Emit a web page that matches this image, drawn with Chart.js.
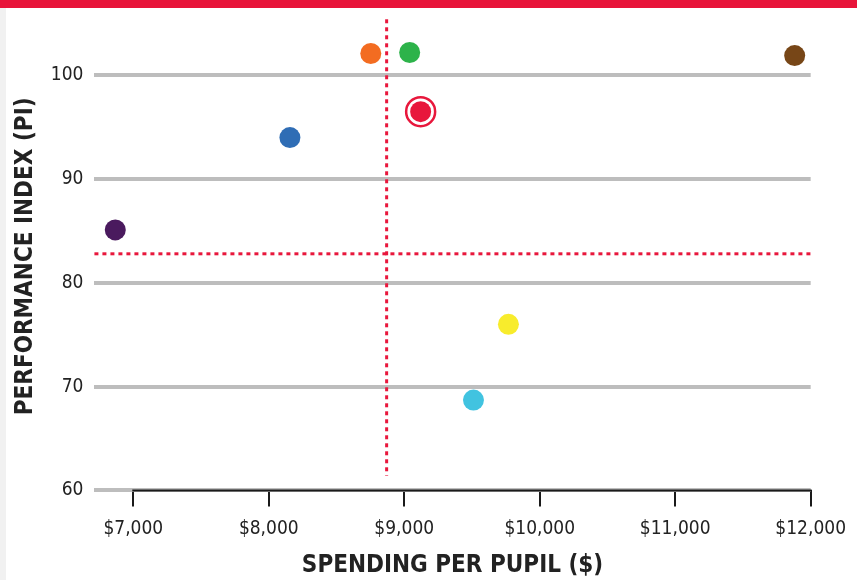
<!DOCTYPE html>
<html>
<head>
<meta charset="utf-8">
<script src="https://cdn.jsdelivr.net/npm/chart.js@4.4.0/dist/chart.umd.min.js"></script>
<style>
  html, body { margin: 0; padding: 0; background: #fff; }
  #wrap { position: relative; width: 857px; height: 580px; overflow: hidden; background: #fff; }
  #topbar { position: absolute; left: 0; top: 0; width: 857px; height: 8px; background: #E8143A; z-index: 2; }
  #leftstrip { position: absolute; left: 0; top: 0; width: 6px; height: 580px; background: #f1f1f1; z-index: 1; }
  canvas { position: absolute; left: 0; top: 0; }
</style>
</head>
<body>
<div id="wrap">
  <div id="leftstrip"></div>
  <div id="topbar"></div>
  <canvas id="c" width="857" height="580"></canvas>
</div>
<script>
// ---- data ----
const spending = [6867, 8156, 8753, 9040, 9121, 11882, 9769, 9511];
const performance = [85.1, 94.0, 102.1, 102.2, 96.5, 101.9, 76.0, 68.7];
const pointColors = ['#4A1A5E', '#2F6DB5', '#F36C21', '#2DB34A', '#E8173C', '#774617', '#F8EC2C', '#41C3E0'];
const highlightIndex = 4;
const xTicks = [7000, 8000, 9000, 10000, 11000, 12000];
const yTicks = [60, 70, 80, 90, 100];
const avgSpending = 8870;
const avgPerformance = 82.8;

const pts = spending.map((x, i) => ({ x: x, y: performance[i] }));
const hl = [{ x: spending[highlightIndex], y: performance[highlightIndex] }];

const FONT = '"DejaVu Sans Condensed", "Roboto", sans-serif';

const refLines = {
  id: 'refLines',
  beforeDatasetsDraw(chart) {
    const { ctx, chartArea, scales } = chart;
    const xs = scales.x, ys = scales.y;
    ctx.save();
    ctx.strokeStyle = '#E8173C';
    ctx.lineWidth = 3;
    ctx.setLineDash([4, 4]);
    const vx = xs.getPixelForValue(avgSpending);
    ctx.beginPath();
    ctx.moveTo(vx, ys.getPixelForValue(105.4));
    ctx.lineTo(vx, ys.getPixelForValue(61.4));
    ctx.stroke();
    const hy = ys.getPixelForValue(avgPerformance);
    ctx.beginPath();
    ctx.moveTo(chartArea.left, hy);
    ctx.lineTo(chartArea.right + 2, hy);
    ctx.stroke();
    ctx.restore();
  },
  afterDatasetsDraw(chart) {
    const { ctx, scales } = chart;
    const xs = scales.x, ys = scales.y;
    ctx.save();
    ctx.strokeStyle = '#1a1a1a';
    ctx.lineWidth = 2;
    const y0 = ys.getPixelForValue(yTicks[0]);
    ctx.beginPath();
    ctx.moveTo(xs.getPixelForValue(xTicks[0]) - 1, y0);
    ctx.lineTo(xs.getPixelForValue(xTicks[xTicks.length - 1]) + 1, y0);
    ctx.stroke();
    ctx.restore();
  }
};

new Chart(document.getElementById('c'), {
  type: 'scatter',
  data: {
    datasets: [
      {
        data: pts,
        backgroundColor: pointColors,
        borderWidth: 0,
        pointRadius: 10.5,
        pointHoverRadius: 10.5,
        order: 1
      },
      {
        data: hl,
        backgroundColor: '#ffffff',
        borderColor: '#E8173C',
        borderWidth: 2.5,
        pointRadius: 14.5,
        pointHoverRadius: 14.5,
        order: 2
      }
    ]
  },
  options: {
    responsive: false,
    animation: false,
    devicePixelRatio: 1,
    layout: { padding: { top: 4, left: 6, right: 46, bottom: 0 } },
    plugins: { legend: { display: false }, tooltip: { enabled: false } },
    elements: { point: { hitRadius: 0 } },
    scales: {
      x: {
        type: 'linear',
        min: 6713,
        max: 12000,
        afterBuildTicks(scale) { scale.ticks = xTicks.map(v => ({ value: v })); },
        border: { display: false },
        grid: {
          drawOnChartArea: false,
          drawTicks: true,
          tickLength: 16,
          color: '#1a1a1a',
          lineWidth: 2
        },
        ticks: {
          padding: 11,
          color: '#222',
          font: { family: FONT, size: 19 },
          callback: v => '$' + Number(v).toLocaleString('en-US'),
          maxRotation: 0
        },
        title: {
          display: true,
          text: 'SPENDING PER PUPIL ($)',
          color: '#222',
          font: { family: FONT, size: 24, weight: 'bold' },
          padding: { top: 0, bottom: 0 }
        }
      },
      y: {
        type: 'linear',
        min: 60,
        max: 105.1,
        afterBuildTicks(scale) { scale.ticks = yTicks.map(v => ({ value: v })); },
        border: { display: false },
        grid: {
          drawTicks: false,
          color: '#BDBDBD',
          lineWidth: 4
        },
        ticks: {
          padding: 11,
          color: '#222',
          font: { family: FONT, size: 19 }
        },
        title: {
          display: true,
          text: 'PERFORMANCE INDEX (PI)',
          color: '#222',
          font: { family: FONT, size: 24, weight: 'bold' },
          padding: { top: 5, bottom: 0 }
        }
      }
    }
  },
  plugins: [refLines]
});
</script>
</body>
</html>
